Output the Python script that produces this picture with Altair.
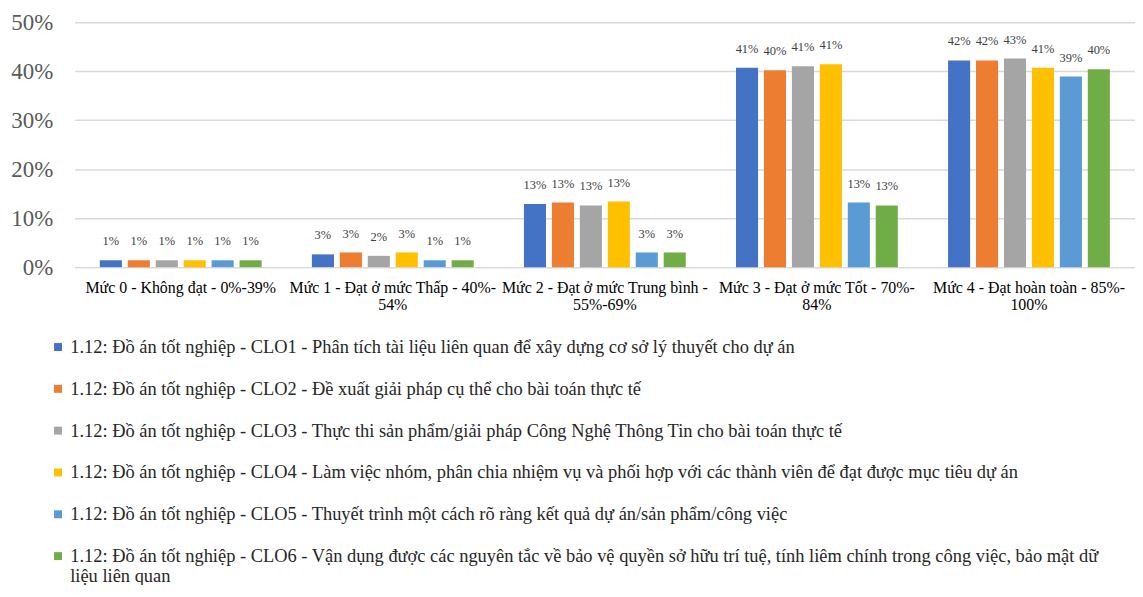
import altair as alt
import pandas as pd

categories = [
    "Mức 0 - Không đạt - 0%-39%",
    "Mức 1 - Đạt ở mức Thấp - 40%-|54%",
    "Mức 2 - Đạt ở mức Trung bình -|55%-69%",
    "Mức 3 - Đạt ở mức Tốt - 70%-|84%",
    "Mức 4 - Đạt hoàn toàn - 85%-|100%",
]

series = [
    "1.12: Đồ án tốt nghiệp - CLO1 - Phân tích tài liệu liên quan để xây dựng cơ sở lý thuyết cho dự án",
    "1.12: Đồ án tốt nghiệp - CLO2 - Đề xuất giải pháp cụ thể cho bài toán thực tế",
    "1.12: Đồ án tốt nghiệp - CLO3 - Thực thi sản phẩm/giải pháp Công Nghệ Thông Tin cho bài toán thực tế",
    "1.12: Đồ án tốt nghiệp - CLO4 - Làm việc nhóm, phân chia nhiệm vụ và phối hợp với các thành viên để đạt được mục tiêu dự án",
    "1.12: Đồ án tốt nghiệp - CLO5 - Thuyết trình một cách rõ ràng kết quả dự án/sản phẩm/công việc",
    "1.12: Đồ án tốt nghiệp - CLO6 - Vận dụng được các nguyên tắc về bảo vệ quyền sở hữu trí tuệ, tính liêm chính trong công việc, bảo mật dữ|liệu liên quan",
]

colors = ["#4472C4", "#ED7D31", "#A5A5A5", "#FFC000", "#5B9BD5", "#70AD47"]

clo1 = [0.014, 0.026, 0.129, 0.407, 0.422]
clo2 = [0.014, 0.030, 0.132, 0.402, 0.422]
clo3 = [0.014, 0.023, 0.126, 0.410, 0.426]
clo4 = [0.014, 0.030, 0.134, 0.414, 0.407]
clo5 = [0.014, 0.014, 0.030, 0.132, 0.389]
clo6 = [0.014, 0.014, 0.030, 0.126, 0.404]

values_by_series = [clo1, clo2, clo3, clo4, clo5, clo6]

rows = []
for s, vals in zip(series, values_by_series):
    for c, v in zip(categories, vals):
        rows.append({"category": c, "series": s, "value": v})
df = pd.DataFrame(rows)

FONT = "Times New Roman"

x_enc = alt.X(
    "category:N",
    sort=categories,
    scale=alt.Scale(paddingInner=0.2, paddingOuter=0.1),
    axis=alt.Axis(
        title=None,
        labelAngle=0,
        labelExpr="split(datum.label, '|')",
        labelFont=FONT,
        labelFontSize=16,
        labelColor="#000000",
        labelLineHeight=18,
        labelPadding=12,
        labelLimit=400,
        labelOverlap=False,
        ticks=False,
        domainColor="#D9D9D9",
        domainWidth=1.5,
        grid=False,
    ),
)
xoff_enc = alt.XOffset(
    "series:N",
    sort=series,
    scale=alt.Scale(paddingInner=0.21, paddingOuter=0.14),
)
y_enc = alt.Y(
    "value:Q",
    scale=alt.Scale(domain=[0, 0.5]),
    axis=alt.Axis(
        title=None,
        format=".0%",
        values=[0, 0.1, 0.2, 0.3, 0.4, 0.5],
        labelFont=FONT,
        labelFontSize=23,
        labelColor="#595959",
        labelPadding=22,
        domain=False,
        ticks=False,
        gridColor="#D9D9D9",
        gridWidth=1.5,
    ),
)

color_enc = alt.Color(
    "series:N",
    sort=series,
    scale=alt.Scale(domain=series, range=colors),
    legend=alt.Legend(
        title=None,
        orient="none",
        legendX=-26,
        legendY=317,
        direction="vertical",
        columns=1,
        symbolType="square",
        symbolSize=64,
        symbolStrokeWidth=0,
        labelFont=FONT,
        labelFontSize=18.5,
        labelColor="#262626",
        labelLimit=1100,
        labelOffset=3,
        rowPadding=23,
        padding=0,
        labelExpr="split(datum.label, '|')",
    ),
)

bars = alt.Chart(df).mark_bar().encode(
    x=x_enc,
    xOffset=xoff_enc,
    y=y_enc,
    color=color_enc,
)

labels = alt.Chart(df).mark_text(
    baseline="middle",
    dy=-19,
    font=FONT,
    fontSize=12.5,
    color="#404040",
).encode(
    x=alt.X("category:N", sort=categories),
    xOffset=alt.XOffset("series:N", sort=series),
    y=alt.Y("value:Q"),
    text=alt.Text("value:Q", format=".0%"),
)

chart = alt.layer(bars, labels, view=alt.ViewBackground(stroke=None)).properties(
    width=1065,
    height=246,
    padding={"left": 67, "top": 13, "right": 0, "bottom": 318},
    autosize=alt.AutoSizeParams(type="none"),
)

chart.save("out.html", embed_options={"renderer": "svg", "actions": False})
